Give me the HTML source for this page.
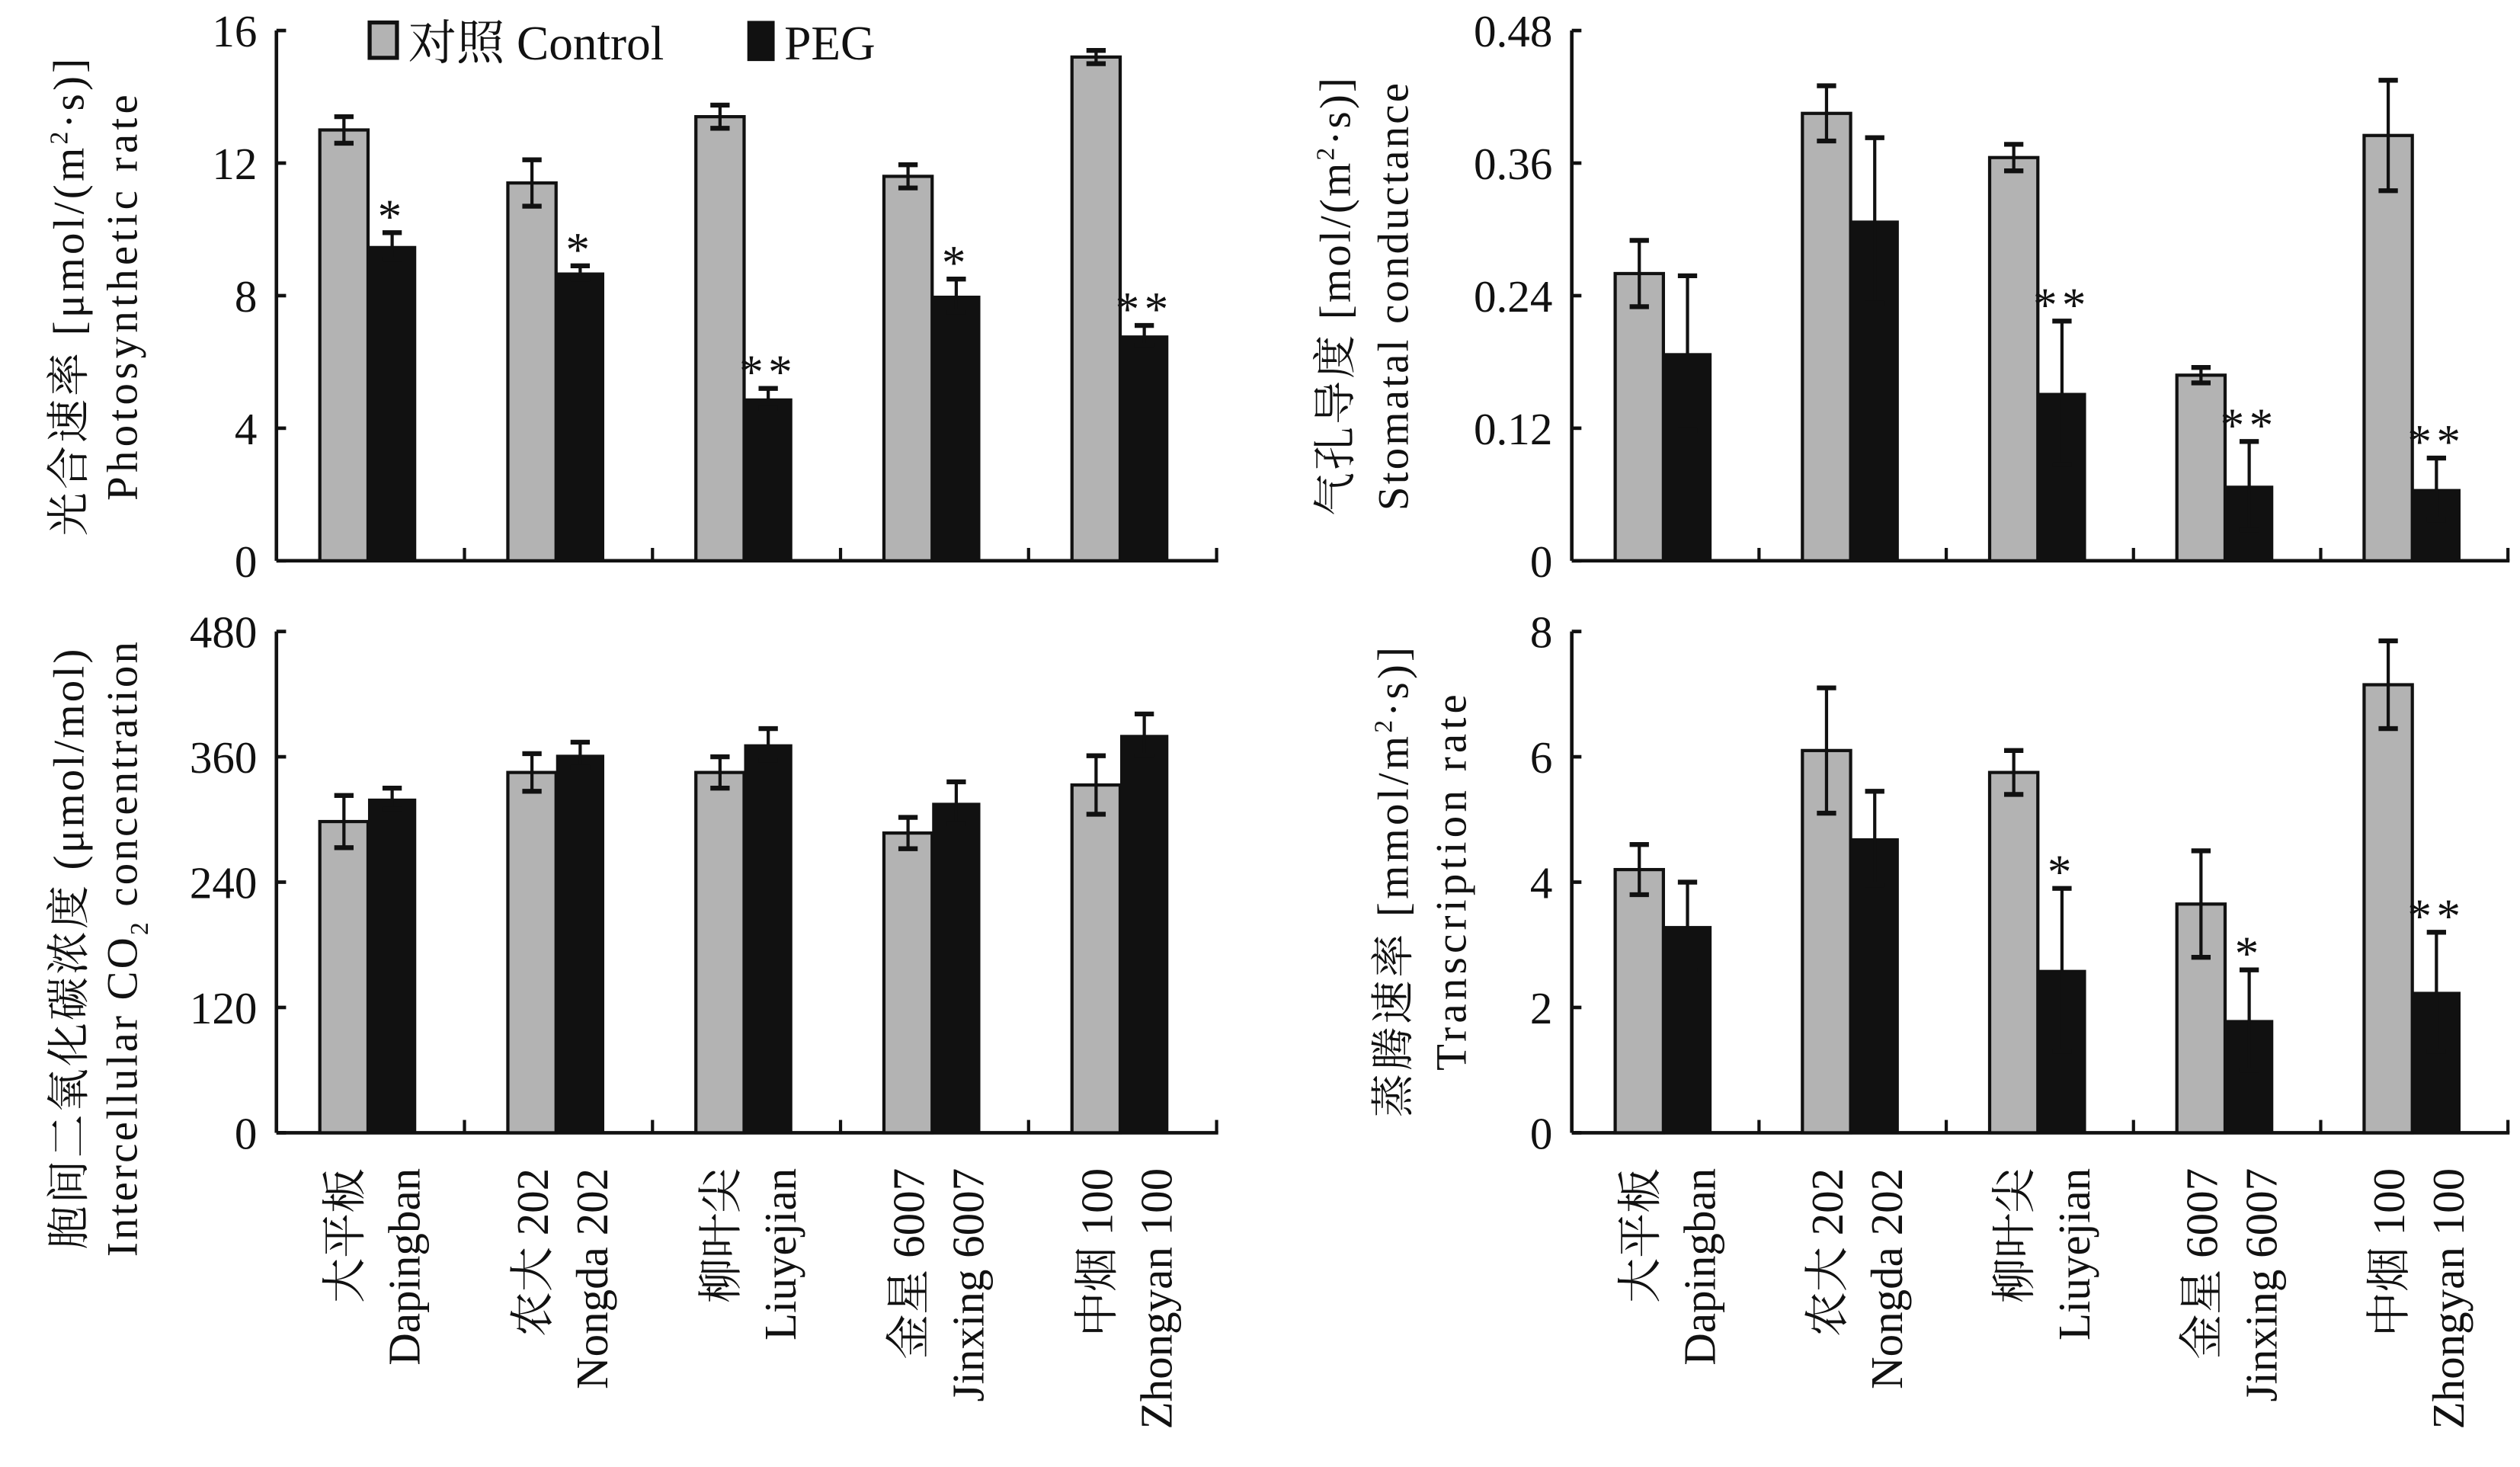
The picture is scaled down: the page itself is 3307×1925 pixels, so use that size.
<!DOCTYPE html>
<html><head><meta charset="utf-8"><style>
html,body{margin:0;padding:0;background:#fff;}
svg{display:block;}
text{font-family:"Liberation Serif","Noto Serif CJK SC","Noto Sans CJK SC",serif;fill:#111;}
</style></head><body>
<svg id="chart" width="3307" height="1925" viewBox="0 0 1568 913" preserveAspectRatio="none" xmlns="http://www.w3.org/2000/svg"></svg>
<script>
const categoriesCN = ["大平板","农大 202","柳叶尖","金星 6007","中烟 100"];
const categoriesEN = ["Dapingban","Nongda 202","Liuyejian","Jinxing 6007","Zhongyan 100"];
const aControl = [13.0, 11.4, 13.4, 11.6, 15.2];
const aControlErr = [0.4, 0.7, 0.35, 0.35, 0.2];
const aPEG = [9.5, 8.7, 4.9, 8.0, 6.8];
const aPEGErr = [0.4, 0.2, 0.3, 0.5, 0.3];
const aStars = ["*","*","**","*","**"];
const aTicks = [0,4,8,12,16];
const bControl = [0.26, 0.405, 0.365, 0.168, 0.385];
const bControlErr = [0.03, 0.025, 0.012, 0.007, 0.05];
const bPEG = [0.188, 0.308, 0.152, 0.068, 0.065];
const bPEGErr = [0.07, 0.075, 0.065, 0.04, 0.028];
const bStars = ["","","**","**","**"];
const bTicks = [0,0.12,0.24,0.36,0.48];
const bTickLabels = ["0","0.12","0.24","0.36","0.48"];
const cControl = [298, 345, 345, 287, 333];
const cControlErr = [25, 18, 15, 15, 28];
const cPEG = [320, 362, 372, 316, 381];
const cPEGErr = [10, 12, 15, 20, 20];
const cStars = ["","","","",""];
const cTicks = [0,120,240,360,480];
const dControl = [4.2, 6.1, 5.75, 3.65, 7.15];
const dControlErr = [0.4, 1.0, 0.35, 0.85, 0.7];
const dPEG = [3.3, 4.7, 2.6, 1.8, 2.25];
const dPEGErr = [0.7, 0.75, 1.3, 0.8, 0.95];
const dStars = ["","","*","*","**"];
const dTicks = [0,2,4,6,8];

const NS="http://www.w3.org/2000/svg";
const svg=document.getElementById('chart');
function el(tag,attrs,parent){const e=document.createElementNS(NS,tag);for(const k in attrs)e.setAttribute(k,attrs[k]);(parent||svg).appendChild(e);return e;}

function panel(p){
  const g=el('g',{});
  
  
  const y=v=>p.y0-(v/p.max)*(p.y0-p.y1);
  const x=i=>p.x0+42+i*p.step;
  const bw=30;
  const ya=el('line',{x1:p.x0,y1:p.y1,x2:p.x0,y2:p.y0,stroke:'#111','stroke-width':2.2},g);
  
  
  const xa=el('line',{x1:p.x0,y1:p.y0,x2:p.x0+p.step*5+1,y2:p.y0,stroke:'#111','stroke-width':2.2},g);
  
  
  p.ticks.forEach((t,i)=>{
    el('line',{x1:p.x0,y1:y(t),x2:p.x0+6,y2:y(t),stroke:'#111','stroke-width':2.2},g);
    const tl=el('text',{x:p.x0-12,y:y(t)+10,'text-anchor':'end','font-size':28},g);
    tl.textContent=p.labels?p.labels[i]:String(t);
    
    
  });
  for(let i=1;i<=5;i++){
    const tx=p.x0+i*p.step;
    el('line',{x1:tx,y1:p.y0,x2:tx,y2:p.y0-8,stroke:'#111','stroke-width':2},g);
  }
  for(let i=0;i<5;i++){
    const cx=x(i), px=cx+30;
    const r1=el('rect',{x:cx-bw/2,y:y(p.ctrl[i]),width:bw,height:p.y0-y(p.ctrl[i]),fill:'#b3b3b3',stroke:'#111','stroke-width':2},g);
    
    
    const r2=el('rect',{x:px-bw/2,y:y(p.peg[i]),width:bw,height:p.y0-y(p.peg[i]),fill:'#111'},g);
    
    
    [[cx,p.ctrl[i],p.ctrlE[i]],[px,p.peg[i],p.pegE[i]]].forEach(([bx,v,e])=>{
      const top=y(v+e), bot=y(v-e);
      el('line',{x1:bx,y1:top,x2:bx,y2:bot,stroke:'#111','stroke-width':2},g);
      el('line',{x1:bx-6,y1:top,x2:bx+6,y2:top,stroke:'#111','stroke-width':3},g);
      el('line',{x1:bx-6,y1:bot,x2:bx+6,y2:bot,stroke:'#111','stroke-width':3},g);
    });
    if(p.stars[i]){
      const s=el('text',{x:px,y:y(p.peg[i]+p.pegE[i]),'text-anchor':'middle','font-size':30,'letter-spacing':3},g);
      s.textContent=p.stars[i];
      
      
    }
    if(p.xlabels){
      const t1=el('text',{x:0,y:0,'font-size':28,'text-anchor':'end',transform:`translate(${cx+10},727) rotate(-90)`},g);
      t1.textContent=categoriesCN[i];
      
      
      const t2=el('text',{x:0,y:0,'font-size':28,'text-anchor':'end',transform:`translate(${px+17},727) rotate(-90)`},g);
      t2.textContent=categoriesEN[i];
      
      
    }
  }
  const tt=el('text',{x:0,y:0,'font-size':27,'letter-spacing':p.ls1,'text-anchor':'middle',transform:`translate(${p.tx1},${p.ty}) rotate(-90)`},g);
  tt.innerHTML=p.t1;
  
  
  const t3=el('text',{x:0,y:0,'font-size':27,'letter-spacing':p.ls2,'text-anchor':'middle',transform:`translate(${p.tx2},${p.ty}) rotate(-90)`},g);
  t3.innerHTML=p.t2;
  
  
}

panel({name:'panel-photosynthetic-rate',x0:172,y0:349,y1:19,max:16,step:117,ticks:aTicks,ctrl:aControl,ctrlE:aControlErr,peg:aPEG,pegE:aPEGErr,stars:aStars,
  t1:'光合速率 [μmol/(m<tspan font-size="16" dy="-10">2</tspan><tspan dy="10">·s)]</tspan>',t2:'Photosynthetic rate',tx1:52,tx2:85,ty:184,ls1:2,ls2:2.5});
panel({name:'panel-stomatal-conductance',x0:978,y0:349,y1:19,max:0.48,step:116.5,ticks:bTicks,labels:bTickLabels,ctrl:bControl,ctrlE:bControlErr,peg:bPEG,pegE:bPEGErr,stars:bStars,
  t1:'气孔导度 [mol/(m<tspan font-size="16" dy="-10">2</tspan><tspan dy="10">·s)]</tspan>',t2:'Stomatal conductance',tx1:840,tx2:876,ty:184,ls1:1.5,ls2:1.5});
panel({name:'panel-intercellular-co2',x0:172,y0:705,y1:393,max:480,step:117,ticks:cTicks,ctrl:cControl,ctrlE:cControlErr,peg:cPEG,pegE:cPEGErr,stars:cStars,xlabels:true,
  t1:'胞间二氧化碳浓度 (μmol/mol)',t2:'Intercellular CO<tspan font-size="16" dy="7">2</tspan><tspan dy="-7"> concentration</tspan>',tx1:52,tx2:85,ty:590,ls1:1.5,ls2:1.5});
panel({name:'panel-transpiration-rate',x0:978,y0:705,y1:393,max:8,step:116.5,ticks:dTicks,ctrl:dControl,ctrlE:dControlErr,peg:dPEG,pegE:dPEGErr,stars:dStars,xlabels:true,
  t1:'蒸腾速率 [mmol/m<tspan font-size="16" dy="-10">2</tspan><tspan dy="10">·s)]</tspan>',t2:'Transcription rate',tx1:876,tx2:912,ty:548,ls1:2,ls2:2.5});

const lg=el('g',{});


const l1=el('rect',{x:230,y:14,width:17,height:22,fill:'#b3b3b3',stroke:'#111','stroke-width':2.5},lg);


const lt1=el('text',{x:254,y:37,'font-size':30},lg);
lt1.textContent='对照 Control';


const l2=el('rect',{x:465,y:13,width:17,height:25,fill:'#111'},lg);


const lt2=el('text',{x:488,y:37,'font-size':30},lg);
lt2.textContent='PEG';


</script>
</body></html>
